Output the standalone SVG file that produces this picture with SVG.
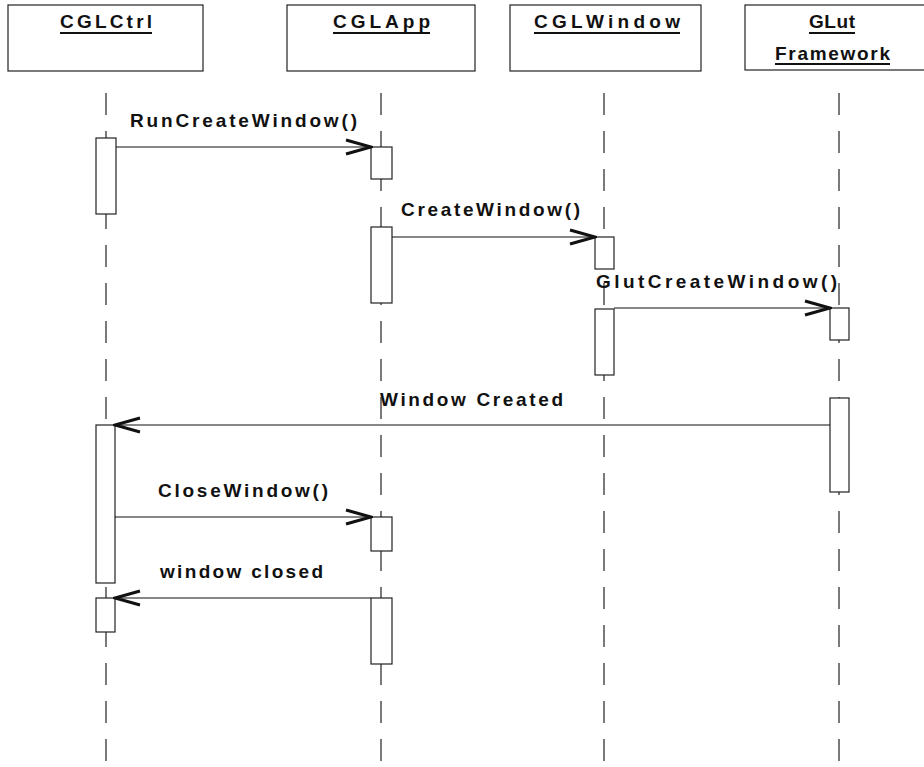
<svg xmlns="http://www.w3.org/2000/svg" width="924" height="767" viewBox="0 0 924 767">
<style>
.bg{fill:#fff}
.obj{fill:#fff;stroke:#222;stroke-width:1.2}
.title{font-family:"Liberation Sans",Arial,sans-serif;font-weight:bold;font-size:19px;fill:#111}
.ul{stroke:#111;stroke-width:2}
.life{stroke:#222;stroke-width:1.2;stroke-dasharray:22 16;fill:none}
.act{fill:#fff;stroke:#222;stroke-width:1.2}
.msg{stroke:#111;stroke-width:1.2;fill:none;marker-end:url(#open)}
.lbl{font-family:"Liberation Sans",Arial,sans-serif;font-weight:bold;font-size:19px;fill:#111}
</style>
<defs>
<marker id="open" markerUnits="userSpaceOnUse" markerWidth="30" markerHeight="20" viewBox="-28 -10 30 20" refX="0" refY="0" orient="auto">
<path d="M-25,-7 L0,0 L-25,7" fill="none" stroke="#111" stroke-width="3" stroke-linejoin="miter"/>
</marker>
</defs>
<rect class="bg" x="0" y="0" width="924" height="767"/>

<g id="lifelines">
<line class="life" x1="106" y1="93" x2="106" y2="767"/>
<line class="life" x1="381" y1="93" x2="381" y2="767"/>
<line class="life" x1="604" y1="93" x2="604" y2="767"/>
<line class="life" x1="839" y1="93" x2="839" y2="767"/>
</g>

<g id="CGLCtrl">
<rect class="obj" x="8" y="5" width="195" height="66"/>
<text class="title" x="60" y="28" textLength="92" lengthAdjust="spacing">CGLCtrl</text>
<line class="ul" x1="60" y1="33" x2="152" y2="33"/>
<rect class="act" x="96" y="138" width="20" height="76"/>
<rect class="act" x="96" y="425" width="19" height="158"/>
<rect class="act" x="96" y="598" width="19" height="34"/>
</g>

<g id="CGLApp">
<rect class="obj" x="287" y="5" width="188" height="66"/>
<text class="title" x="333" y="28" textLength="97" lengthAdjust="spacing">CGLApp</text>
<line class="ul" x1="333" y1="33" x2="430" y2="33"/>
<rect class="act" x="371" y="147" width="21" height="32"/>
<rect class="act" x="371" y="227" width="21" height="76"/>
<rect class="act" x="371" y="517" width="21" height="34"/>
<rect class="act" x="371" y="598" width="21" height="66"/>
</g>

<g id="CGLWindow">
<rect class="obj" x="510" y="5" width="191" height="66"/>
<text class="title" x="534" y="28" textLength="146" lengthAdjust="spacing">CGLWindow</text>
<line class="ul" x1="534" y1="33" x2="680" y2="33"/>
<rect class="act" x="595" y="237" width="19" height="32"/>
<rect class="act" x="595" y="309" width="19" height="66"/>
</g>

<g id="GLutFramework">
<rect class="obj" x="745" y="5" width="190" height="65"/>
<text class="title" x="809" y="28" textLength="46" lengthAdjust="spacing">GLut</text>
<line class="ul" x1="809" y1="33" x2="855" y2="33"/>
<text class="title" x="775" y="60" textLength="115" lengthAdjust="spacing">Framework</text>
<line class="ul" x1="775" y1="64" x2="890" y2="64"/>
<rect class="act" x="830" y="308" width="19" height="32"/>
<rect class="act" x="830" y="398" width="19" height="94"/>
</g>

<g id="connectors">
<line class="msg" x1="116" y1="147" x2="371" y2="147"/>
<text class="lbl" x="130" y="127" textLength="227" lengthAdjust="spacing">RunCreateWindow()</text>
<line class="msg" x1="392" y1="237" x2="595" y2="237"/>
<text class="lbl" x="401" y="216" textLength="179" lengthAdjust="spacing">CreateWindow()</text>
<line class="msg" x1="614" y1="308" x2="830" y2="308"/>
<text class="lbl" x="596" y="288" textLength="241" lengthAdjust="spacing">GlutCreateWindow()</text>
<line class="msg" x1="830" y1="425" x2="115" y2="425"/>
<text class="lbl" x="380" y="406" textLength="183" lengthAdjust="spacing">Window Created</text>
<line class="msg" x1="115" y1="517" x2="371" y2="517"/>
<text class="lbl" x="158" y="497" textLength="170" lengthAdjust="spacing">CloseWindow()</text>
<line class="msg" x1="371" y1="598" x2="115" y2="598"/>
<text class="lbl" x="160" y="578" textLength="163" lengthAdjust="spacing">window closed</text>
</g>
</svg>
